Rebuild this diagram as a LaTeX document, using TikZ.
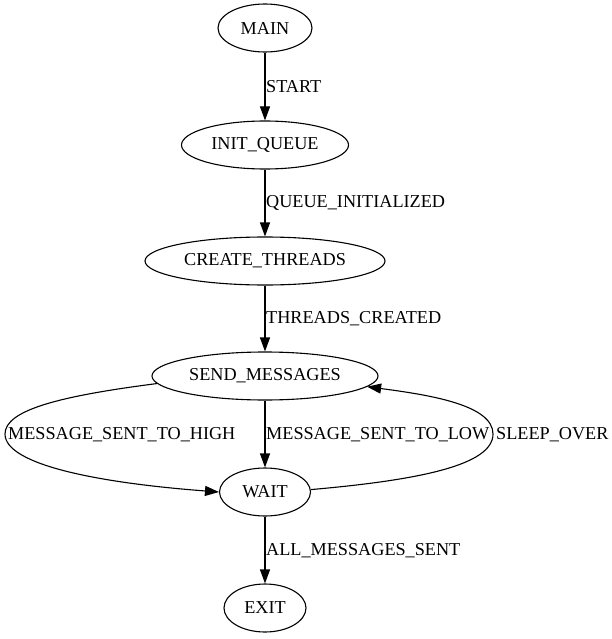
\documentclass[tikz,border=0pt]{standalone}
\usepackage{fontspec}
\setmainfont{Liberation Serif}
\usetikzlibrary{shapes.geometric,arrows.meta}
\begin{document}
\begin{tikzpicture}[x=1pt,y=-1pt,
  state/.style={ellipse,draw,line width=1.1pt,inner sep=0pt,minimum height=48pt,font=\fontsize{18.2}{21}\selectfont},
  lbl/.style={font=\fontsize{18.2}{21}\selectfont,inner sep=0pt,anchor=west},
  conn/.style={draw,line width=1.1pt,-{Triangle[length=14pt,width=10pt]}}]
\useasboundingbox (0,0) rectangle (612,639);
\node[state,minimum width=94pt] (main) at (265,28) {MAIN};
\node[state,minimum width=167pt] (init) at (265,145) {INIT\_QUEUE};
\node[state,minimum width=240pt] (create) at (265,261) {CREATE\_THREADS};
\node[state,minimum width=226pt] (send) at (265,376) {SEND\_MESSAGES};
\node[state,minimum width=91pt] (wait) at (265,492) {WAIT};
\node[state,minimum width=82pt] (exit) at (265,608) {EXIT};
\coordinate (lx) at (5,434);
\coordinate (rx) at (493,434);
\draw[conn] (main) -- (init);
\draw[conn] (init) -- (create);
\draw[conn] (create) -- (send);
\draw[conn] (send) -- (wait);
\draw[conn] (wait) -- (exit);
\draw[conn] (send.184) .. controls (60,396) and (5,410) .. (lx) .. controls (5,465) and (100,483) .. (wait.west);
\draw[conn] (wait.3) .. controls (420,480) and (493,465) .. (rx) .. controls (493,405) and (430,395) .. (send.354);
\node[lbl] (l1) at (266,87) {START};
\node[lbl] (l2) at (266,203) {QUEUE\_INITIALIZED};
\node[lbl] (l3) at (266,319) {THREADS\_CREATED};
\node[lbl] (l4) at (266,435) {MESSAGE\_SENT\_TO\_LOW};
\node[lbl] (l5) at (8,435) {MESSAGE\_SENT\_TO\_HIGH};
\node[lbl] (l6) at (496,435) {SLEEP\_OVER};
\node[lbl] (l7) at (266,551) {ALL\_MESSAGES\_SENT};
\end{tikzpicture}
\end{document}
